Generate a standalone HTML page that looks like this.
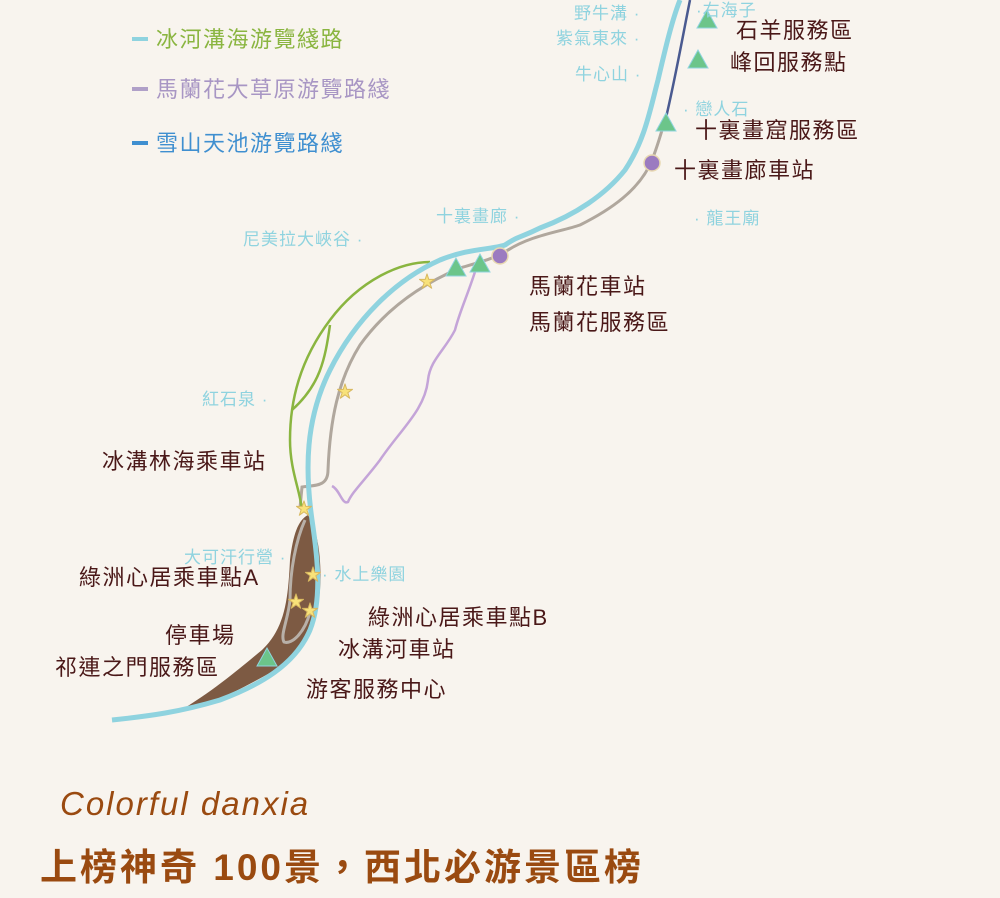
<!DOCTYPE html>
<html><head><meta charset="utf-8"><style>
body{margin:0;background:#f8f4ee;}
svg{display:block}
text{font-family:"Liberation Sans","Noto Sans CJK TC",sans-serif;}
.d{fill:#4a1818;font-size:22px;letter-spacing:1.5px}
.c{fill:#8fd3df;font-size:17px;letter-spacing:1px}
</style></head><body>
<svg width="1000" height="898" viewBox="0 0 1000 898">
<rect width="1000" height="898" fill="#f8f4ee"/>
<!-- legend -->
<rect x="132" y="37" width="16" height="4" fill="#8fd3df"/>
<text x="156" y="47" font-size="22" letter-spacing="1.5" fill="#8ab540">冰河溝海游覽綫路</text>
<rect x="132" y="87" width="16" height="4" fill="#b0a0c8"/>
<text x="156" y="97" font-size="22" letter-spacing="1.5" fill="#a896c4">馬蘭花大草原游覽路綫</text>
<rect x="132" y="141" width="16" height="4" fill="#3f8fd0"/>
<text x="156" y="151" font-size="22" letter-spacing="1.5" fill="#3f8fd0">雪山天池游覽路綫</text>

<!-- brown area -->
<path d="M178,712 C215,690 240,668 262,650 C285,628 288,600 290,560 C293,535 298,520 308,515 C318,530 322,560 320,590 C316,630 302,655 275,670 C240,690 210,705 178,712 Z" fill="#7d5a43"/>
<path d="M305,520 C296,540 290,570 290,600 C288,620 280,635 284,642 C292,645 305,632 310,612" fill="none" stroke="#b8b0a8" stroke-width="3"/>
<!-- gray line -->
<path d="M300,508 L302,487 C315,485 328,487 328,470 C330,420 338,380 360,345 C385,310 420,285 460,268 C480,262 495,258 505,252 C530,235 560,232 580,225 C610,210 640,190 652,160 C658,145 662,130 665,120" fill="none" stroke="#b0a79d" stroke-width="3"/>
<!-- dark blue -->
<path d="M665,122 C675,80 682,40 690,0" fill="none" stroke="#4a5a90" stroke-width="2.5"/>
<!-- purple -->
<path d="M478,262 C470,290 460,310 455,330 C445,350 430,360 428,380 C425,410 400,430 380,460 C365,480 352,492 348,502 C342,505 340,490 332,486" fill="none" stroke="#c4a4d8" stroke-width="2.5"/>
<!-- green -->
<path d="M430,262 C400,262 360,280 330,320 C300,360 290,400 290,440 C290,470 300,490 302,510" fill="none" stroke="#8ab540" stroke-width="2.5"/>
<path d="M330,325 C325,360 320,385 292,410" fill="none" stroke="#8ab540" stroke-width="2.5"/>
<!-- cyan road -->
<path d="M112,720 C150,716 180,712 220,700 C260,685 295,665 310,630 C322,600 318,560 312,520 C305,470 305,420 330,370 C355,320 395,280 440,260 C470,248 490,250 505,245 C520,235 520,238 540,228 C575,215 605,195 625,170 C645,140 650,110 658,80 C665,50 672,20 680,0" fill="none" stroke="#8fd3df" stroke-width="5"/>

<!-- markers -->
<g fill="#6cc58a" stroke="#8fd3df" stroke-width="1">
<polygon points="707,10 697,28 717,28"/>
<polygon points="698,50 688,68 708,68"/>
<polygon points="666,113 656,131 676,131"/>
<polygon points="456,258 446,276 466,276"/>
<polygon points="480,254 470,272 490,272"/>
<polygon points="267,648 257,666 277,666"/>
</g>
<circle cx="652" cy="163" r="8" fill="#9b7bc0" stroke="#e8d8b0" stroke-width="1.5"/>
<circle cx="500" cy="256" r="8" fill="#9b7bc0" stroke="#e8d8b0" stroke-width="1.5"/>
<g fill="#f8e27a" stroke="#d8b860" stroke-width="1" font-size="16">
<text x="419" y="287">★</text><text x="337" y="397">★</text><text x="296" y="514">★</text>
<text x="305" y="580">★</text><text x="288" y="607">★</text><text x="302" y="616">★</text>
</g>

<!-- cyan labels -->
<text class="c" x="574" y="19">野牛溝 ·</text>
<text class="c" x="556" y="44">紫氣東來 ·</text>
<text class="c" x="575" y="80">牛心山 ·</text>
<text class="c" x="696" y="16">·右海子</text>
<text class="c" x="683" y="115">· 戀人石</text>
<text class="c" x="694" y="224">· 龍王廟</text>
<text class="c" x="436" y="222">十裏畫廊 ·</text>
<text class="c" x="243" y="245">尼美拉大峽谷 ·</text>
<text class="c" x="202" y="405">紅石泉 ·</text>
<text class="c" x="184" y="563">大可汗行營 ·</text>
<text class="c" x="322" y="580">· 水上樂園</text>

<!-- dark labels -->
<text class="d" x="736" y="38">石羊服務區</text>
<text class="d" x="730" y="70">峰回服務點</text>
<text class="d" x="695" y="138">十裏畫窟服務區</text>
<text class="d" x="674" y="178">十裏畫廊車站</text>
<text class="d" x="529" y="294">馬蘭花車站</text>
<text class="d" x="529" y="330">馬蘭花服務區</text>
<text class="d" x="102" y="469">冰溝林海乘車站</text>
<text class="d" x="79" y="585">綠洲心居乘車點A</text>
<text class="d" x="368" y="625">綠洲心居乘車點B</text>
<text class="d" x="165" y="643">停車場</text>
<text class="d" x="338" y="657">冰溝河車站</text>
<text class="d" x="55" y="675">祁連之門服務區</text>
<text class="d" x="306" y="697">游客服務中心</text>

<text x="60" y="815" font-size="33" font-style="italic" letter-spacing="2" fill="#9a4a10" font-family="Liberation Sans,sans-serif">Colorful danxia</text>
<text x="40" y="880" font-size="37" font-weight="bold" letter-spacing="3" fill="#9a4a10">上榜神奇 100景，西北必游景區榜</text>
</svg>
</body></html>
